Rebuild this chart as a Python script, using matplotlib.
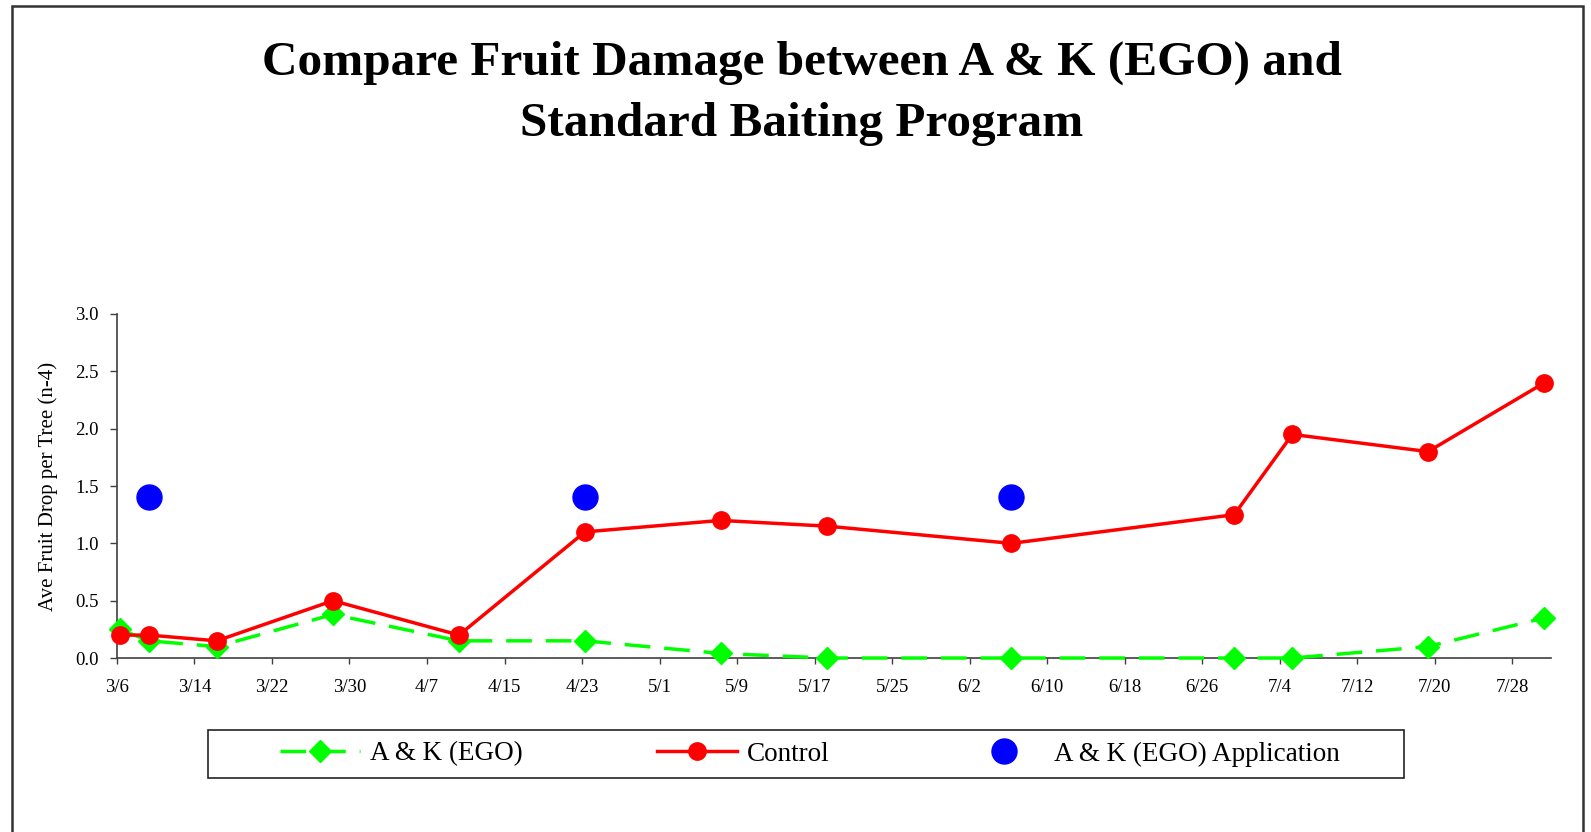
import datetime as dt
import numpy as np
import matplotlib
matplotlib.use("Agg")
from matplotlib import pyplot as plt
import matplotlib.dates as mdates
from matplotlib.patches import Rectangle

# data (month/day, year not shown)
control_dates = ["3/6", "3/9", "3/16", "3/28", "4/10", "4/23", "5/7", "5/18",
                 "6/6", "6/29", "7/5", "7/19", "7/31"]
control_values = [0.2, 0.2, 0.15, 0.5, 0.2, 1.1, 1.2, 1.15, 1.0, 1.25, 1.95, 1.8, 2.4]
ego_values = [0.25, 0.15, 0.1, 0.38, 0.15, 0.15, 0.04, 0.0, 0.0, 0.0, 0.0, 0.1, 0.35]
application_dates = ["3/9", "4/23", "6/6"]
application_values = [1.4, 1.4, 1.4]

title_lines = ["Compare Fruit Damage between A & K (EGO) and", "Standard Baiting Program"]
axis_start = "3/6"
axis_end = "8/1"
year = 2006


# turn "m/d" into a datetime, samples sit a bit after midnight like excel draws them
def to_date(s, offset_days=0.0):
    m, d = s.split("/")
    return dt.datetime(year, int(m), int(d)) + dt.timedelta(days=offset_days)


def tick_label(x, pos=None):
    d = mdates.num2date(x)
    return f"{d.month}/{d.day}"


x_control = [to_date(s, 0.3) for s in control_dates]
x_app = [to_date(s, 0.3) for s in application_dates]

plt.rcParams["font.family"] = ["Liberation Serif", "DejaVu Serif"]

fig = plt.figure(figsize=(15.91, 8.32), dpi=100)
ax = fig.add_axes([0.0735, 0.2091, 0.9014, 0.4135])

# series
ax.plot(x_control, ego_values, color="#00ff00", lw=2.5, ls=(0, (7.4, 4)),
        marker="D", ms=11.5, label="A & K (EGO)", clip_on=False, zorder=3)
ax.plot(x_control, control_values, color="#ff0000", lw=2.5,
        marker="o", ms=12.5, label="Control", clip_on=False, zorder=4)
ax.plot(x_app, application_values, color="#0000ff", ls="none",
        marker="o", ms=18, label="A & K (EGO) Application", clip_on=False, zorder=5)

# axes
ax.set_ylim(0, 3.0)
ax.set_yticks(np.arange(0, 3.01, 0.5))
ax.yaxis.set_major_formatter(plt.FuncFormatter(lambda v, p: f"{v:.1f}"))
ax.set_xlim(to_date(axis_start), to_date(axis_end))
ticks = mdates.drange(to_date(axis_start), to_date(axis_end), dt.timedelta(days=8))
ax.set_xticks(ticks)
ax.xaxis.set_major_formatter(plt.FuncFormatter(tick_label))

for side in ["top", "right"]:
    ax.spines[side].set_visible(False)
for side in ["left", "bottom"]:
    ax.spines[side].set_color("#404040")
    ax.spines[side].set_linewidth(1.2)
ax.tick_params(axis="y", direction="out", length=5, width=1, color="#404040",
               labelsize=13.5, pad=8)
ax.tick_params(axis="x", direction="out", length=4, width=1, color="#404040",
               labelsize=13.5, pad=11)

ax.set_ylabel("Ave Fruit Drop per Tree (n-4)", fontsize=15)
ax.yaxis.set_label_coords(-0.041, 0.5)

# title, two lines placed on their baselines
fig.text(802 / 1591, 1 - 75 / 832, title_lines[0], ha="center", va="baseline",
         fontsize=35.5, fontweight="bold")
fig.text(802 / 1591, 1 - 136 / 832, title_lines[1], ha="center", va="baseline",
         fontsize=35.5, fontweight="bold")

# legend without frame, box drawn on its own
leg = fig.legend(loc="center", bbox_to_anchor=(810 / 1591, 1 - 754 / 832), ncol=3,
                 frameon=False, fontsize=19.5, handlelength=2.95, handletextpad=0.37,
                 columnspacing=4.96, numpoints=1)
fig.add_artist(Rectangle((208 / 1591, 1 - 778 / 832), 1196 / 1591, 48 / 832,
                         transform=fig.transFigure, fill=False, ec="#222222", lw=1.2))

# outer chart border, bottom edge runs off the picture
fig.add_artist(Rectangle((12 / 1591, -0.05), 1571 / 1591, 1.05 - 6 / 832,
                         transform=fig.transFigure, fill=False, ec="#333333", lw=1.8))

fig.savefig("out.png", dpi=100)
